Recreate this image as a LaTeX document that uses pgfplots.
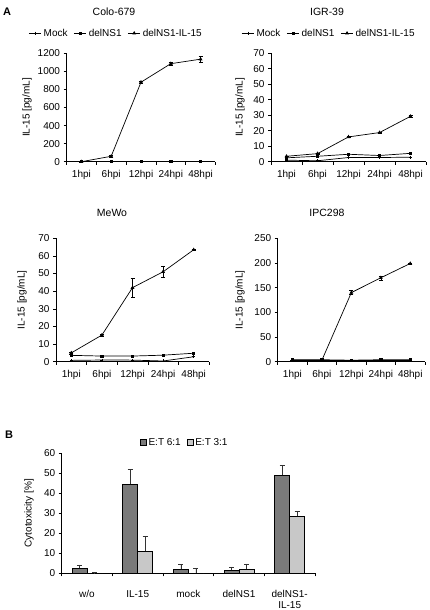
\documentclass[border=0pt]{standalone}
\usepackage{fontspec}
\setmainfont{Liberation Sans}
\usepackage{pgfplots}
\pgfplotsset{compat=1.18}
\definecolor{darkbar}{HTML}{7A7A7A}
\definecolor{lightbar}{HTML}{C8C8C8}
\pgfplotsset{
  common/.style={
    scale only axis,
    axis x line=bottom, axis y line=left,
    axis line style={-, black, line width=0.6pt},
    tick align=outside,
    major tick length=3pt,
    tick style={black, line width=0.6pt},
    /pgf/number format/assume math mode=true,
    /pgf/number format/1000 sep={},
    ticklabel style={font=\fontsize{10}{11}\selectfont},
    label style={font=\fontsize{10}{11}\selectfont},
    ymin=0,
    xmin=-0.5, xmax=4.5,
    xtick={-0.5,0.5,...,4.5}, xticklabels={},
    extra x ticks={0,1,2,3,4},
    extra x tick style={major tick length=0pt, xticklabel style={yshift=-5.5pt}},
    clip=false,
  },
  linepanel/.style={
    common,
    extra x tick labels={1hpi,6hpi,12hpi,24hpi,48hpi},
    every axis plot/.append style={black, line width=0.7pt, mark options={solid}},
    error bars/error bar style={line width=0.5pt, black},
    error bars/error mark options={rotate=90, mark size=2pt, line width=0.5pt},
  },
  withlegend/.style={
    legend columns=3,
    legend style={draw=none, fill=none, font=\fontsize{10}{11}\selectfont, inner sep=0pt,
      /tikz/every even column/.append style={column sep=4pt}},
    legend image code/.code={\draw[mark repeat=2,mark phase=2,#1] plot coordinates {(0cm,0cm) (0.22cm,0cm) (0.44cm,0cm)};},
  },
  mockst/.style={mark=+, mark size=1.5pt},
  delst/.style={mark=square*, mark size=1.1pt},
  ilst/.style={mark=triangle*, mark size=1.5pt},
}
\begin{document}
\begin{tikzpicture}[x=1pt,y=1pt]
\useasboundingbox (0,0) rectangle (430,610);
\fill[white] (0,0) rectangle (430,610);

% titles
\node[font=\bfseries\fontsize{11}{12}\selectfont] at (7,598) {A};
\node[font=\bfseries\fontsize{11}{12}\selectfont] at (9,175) {B};
\node[font=\fontsize{10.5}{12}\selectfont] at (114,598) {Colo-679};
\node[font=\fontsize{10.5}{12}\selectfont] at (327,598) {IGR-39};
\node[font=\fontsize{10.5}{12}\selectfont] at (112,397) {MeWo};
\node[font=\fontsize{10.5}{12}\selectfont] at (327,397) {IPC298};

% Colo-679
\begin{axis}[linepanel, withlegend,
  at={(66.5pt,448.3pt)}, anchor=south west, width=149pt, height=108.4pt,
  ymax=1200, ytick={0,200,...,1200},
  ylabel={IL-15 [pg/mL]},
  ylabel style={at={(axis description cs:-0.265,0.5)}, anchor=center, rotate=0},
  legend style={at={(axis description cs:0.333,1.185)}, anchor=center}]
\addplot[mockst] coordinates {(0,0) (1,0) (2,0) (3,0) (4,0)};
\addlegendentry{Mock}
\addplot[delst] coordinates {(0,2) (1,2) (2,2) (3,2) (4,2)};
\addlegendentry{delNS1}
\addplot[ilst, error bars/.cd, y dir=both, y explicit] coordinates {
 (0,0) +- (0,2) (1,60) +- (0,6) (2,880) +- (0,8) (3,1085) +- (0,18) (4,1135) +- (0,30)};
\addlegendentry{delNS1-IL-15}
\end{axis}

% IGR-39
\begin{axis}[linepanel, withlegend,
  at={(271pt,448.3pt)}, anchor=south west, width=155pt, height=108.4pt,
  ymax=70, ytick={0,10,...,70},
  ylabel={IL-15 [pg/mL]},
  ylabel style={at={(axis description cs:-0.2,0.5)}, anchor=center},
  legend style={at={(axis description cs:0.374,1.185)}, anchor=center}]
\addplot[mockst] coordinates {(0,1) (1,0.6) (2,2.7) (3,2.7) (4,2.9)};
\addlegendentry{Mock}
\addplot[delst] coordinates {(0,2.5) (1,3.5) (2,4.8) (3,4) (4,5.4)};
\addlegendentry{delNS1}
\addplot[ilst, error bars/.cd, y dir=both, y explicit] coordinates {
 (0,3.5) +- (0,0.3) (1,5.2) +- (0,0.3) (2,16) +- (0,0.4) (3,18.8) +- (0,0.4) (4,29.3) +- (0,0.4)};
\addlegendentry{delNS1-IL-15}
\end{axis}

% MeWo
\begin{axis}[linepanel,
  at={(56pt,248.3pt)}, anchor=south west, width=153pt, height=123.4pt,
  ymax=70, ytick={0,10,...,70},
  ylabel={IL-15 [pg/mL]},
  ylabel style={at={(axis description cs:-0.222,0.5)}, anchor=center}]
\addplot[mockst] coordinates {(0,0.75) (1,0.95) (2,0.9) (3,0.4) (4,2.8)};
\addplot[delst] coordinates {(0,3.6) (1,3.2) (2,3.2) (3,3.7) (4,4.8)};
\addplot[ilst, error bars/.cd, y dir=both, y explicit] coordinates {
 (0,5) +- (0,0.6) (1,15.1) +- (0,0.5) (2,42) +- (0,5.5) (3,51) +- (0,3) (4,63.5) +- (0,0.5)};
\end{axis}

% IPC298
\begin{axis}[linepanel,
  at={(277.7pt,248.3pt)}, anchor=south west, width=147.3pt, height=123.4pt,
  ymax=250, ytick={0,50,...,250},
  ylabel={IL-15 [pg/mL]},
  ylabel style={at={(axis description cs:-0.256,0.5)}, anchor=center}]
\addplot[mockst] coordinates {(0,2) (1,2) (2,2) (3,2) (4,2)};
\addplot[delst] coordinates {(0,4) (1,4) (2,3) (3,4) (4,4)};
\addplot[ilst, error bars/.cd, y dir=both, y explicit] coordinates {
 (0,3) +- (0,0.5) (1,3) +- (0,0.5) (2,140) +- (0,4) (3,170) +- (0,4) (4,199) +- (0,1)};
\end{axis}

% Panel B
\begin{axis}[common,
  at={(61.7pt,36.7pt)}, anchor=south west, width=253.3pt, height=120pt,
  ymax=60, ytick={0,10,...,60},
  extra x tick labels={w/o,IL-15,mock,delNS1,delNS1-\\IL-15},
  extra x tick style={major tick length=0pt, xticklabel style={yshift=-8pt, align=center, anchor=north}},
  ylabel={Cytotoxicity [\%]},
  ylabel style={at={(axis description cs:-0.129,0.5)}, anchor=center},
  ybar=0pt, bar width=15pt,
  legend columns=2,
  legend style={draw=none, fill=none, font=\fontsize{10}{11}\selectfont, inner sep=0pt,
    at={(axis description cs:0.486,1.088)}, anchor=center,
    /tikz/every even column/.append style={column sep=4pt}},
  legend image code/.code={\draw[#1, line width=0.5pt] (0pt,-3pt) rectangle (6pt,3pt);},
  error bars/error bar style={line width=0.5pt, black!80},
  error bars/error mark options={rotate=90, mark size=2.5pt, line width=0.5pt, black!80},
  ]
\addplot[fill=darkbar, draw=black, line width=0.5pt, error bars/.cd, y dir=plus, y explicit] coordinates {
 (0,2.5) +- (0,1.7) (1,44.5) +- (0,7.3) (2,2) +- (0,2.3) (3,1.5) +- (0,1.7) (4,49) +- (0,5)};
\addlegendentry{E:T 6:1}
\addplot[fill=lightbar, draw=black, line width=0.5pt, error bars/.cd, y dir=plus, y explicit] coordinates {
 (0,0) +- (0,0.3) (1,11) +- (0,7.3) (2,0) +- (0,2.5) (3,2) +- (0,2.7) (4,28.5) +- (0,2.5)};
\addlegendentry{E:T 3:1}
\end{axis}
\end{tikzpicture}
\end{document}
